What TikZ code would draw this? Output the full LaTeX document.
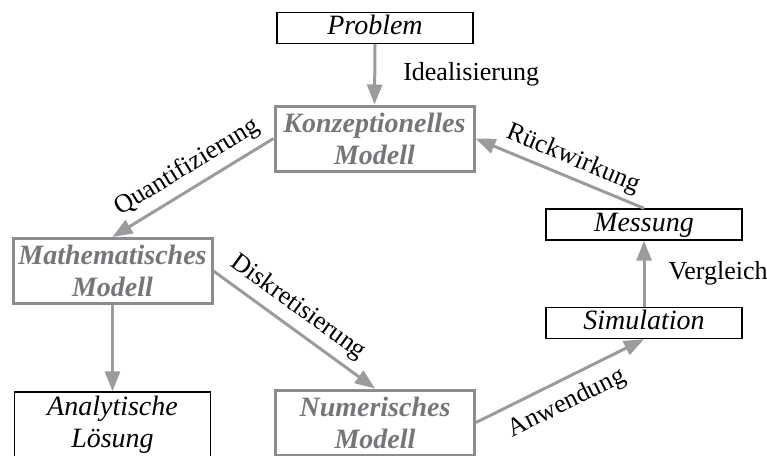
\documentclass[tikz,border=0pt]{standalone}
\usepackage{fontspec}
\setmainfont{Liberation Serif}
\usetikzlibrary{arrows.meta}

\definecolor{boxgray}{RGB}{140,140,144}
\definecolor{arrowgray}{RGB}{155,155,158}
\definecolor{textgray}{RGB}{118,118,122}
\newcommand{\kastensize}{\fontsize{28}{32}\selectfont}
\newcommand{\pfeilsize}{\fontsize{26}{30}\selectfont}

\begin{document}
\begin{tikzpicture}[x=1pt, y=-1pt,
  plain/.style={draw=black, line width=1.4pt, minimum width=196pt, minimum height=31pt,
    inner sep=0pt, text height=18pt, text depth=5pt, font=\kastensize\itshape},
  model/.style={draw=boxgray, line width=3pt, minimum width=199pt, minimum height=65pt,
    inner sep=0pt, align=center, text=textgray, font=\kastensize\bfseries\itshape},
  flow/.style={draw=arrowgray, line width=3pt, -{Triangle[length=20pt, width=15pt]}},
  lab/.style={font=\pfeilsize, inner sep=7pt}]
\useasboundingbox (0,0) rectangle (767,455);
\clip (0,0) rectangle (767,455);

\node[plain] (prob) at (375,28) {Problem};
\node[model] (konz) at (374.5,138.5) {Konzeptionelles\\Modell};
\node[model] (math) at (112.5,271) {Mathematisches\\Modell};
\node[plain, minimum height=65pt, text height=, text depth=, align=center] (anal) at (112.5,424.5) {Analytische\\Lösung};
\node[model] (num) at (375,422.5) {Numerisches\\Modell};
\node[plain] (mess) at (644,224.5) {Messung};
\node[plain] (sim) at (644,323) {Simulation};

\draw[flow] (prob.south) -- node[lab, right=20pt] {Idealisierung} (konz.north);
\draw[flow] (konz.west) -- node[lab, sloped, above, pos=0.47] {Quantifizierung} (math.north);
\draw[flow] (math.east) -- node[lab, sloped, above, pos=0.45] {Diskretisierung} (num.north);
\draw[flow] (math.south) -- (anal.north);
\draw[flow] (num.east) -- node[lab, sloped, below, pos=0.48, inner sep=10pt] {Anwendung} (sim.south);
\draw[flow] (sim.north) -- node[lab, right=16pt] {Vergleich} (mess.south);
\draw[flow] (mess.north) -- node[lab, sloped, above, pos=0.46, inner sep=5pt] {Rückwirkung} (konz.east);
\end{tikzpicture}
\end{document}
